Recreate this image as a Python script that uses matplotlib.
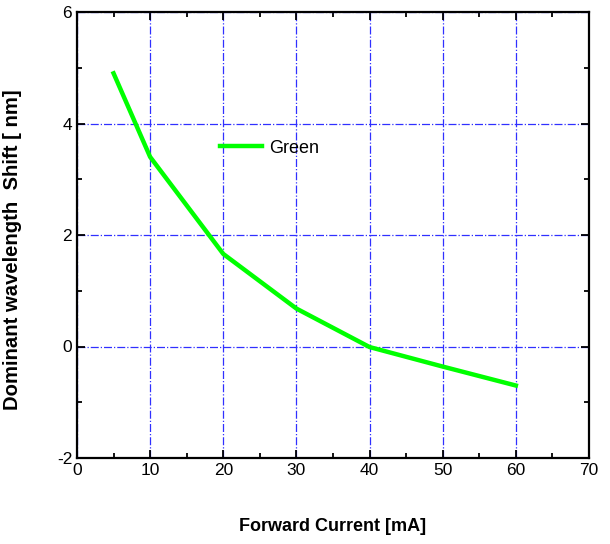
import matplotlib
matplotlib.use('Agg')
import matplotlib.pyplot as plt
from matplotlib.ticker import MultipleLocator

current = [5, 10, 20, 30, 40, 50, 60]
shift = [4.9, 3.4, 1.66, 0.68, -0.01, -0.36, -0.7]

plt.rcParams['font.family'] = ['Liberation Sans', 'DejaVu Sans']
plt.rcParams['axes.unicode_minus'] = False

fig = plt.figure(figsize=(6.1, 5.44), dpi=100)
ax = fig.add_axes([77 / 610, 1 - 458 / 544, (589 - 77) / 610, (458 - 12) / 544])

ax.plot(current, shift, color='#00ff00', lw=3.2, label='Green')

ax.set_xlim(0, 70)
ax.set_ylim(-2, 6)
ax.xaxis.set_major_locator(MultipleLocator(10))
ax.xaxis.set_minor_locator(MultipleLocator(5))
ax.yaxis.set_major_locator(MultipleLocator(2))
ax.yaxis.set_minor_locator(MultipleLocator(1))
ax.tick_params(which='both', direction='in', top=True, right=True, width=1.3, labelsize=12.5)
ax.tick_params(which='major', length=6)
ax.tick_params(which='minor', length=3.5)
for s in ax.spines.values():
    s.set_linewidth(1.6)

ax.grid(True, which='major', color='#3030ff', ls='-.', lw=0.9)

ax.set_xlabel('Forward Current [mA]', fontsize=13, fontweight='bold', labelpad=29)
ax.set_ylabel('Dominant wavelength  Shift [ nm]', fontsize=14.6, fontweight='bold')
ax.yaxis.set_label_coords(-0.107, 0.466)

ax.legend(loc='center left', bbox_to_anchor=(0.266, 0.695), frameon=False, fontsize=13,
          handlelength=2.3, handletextpad=0.4, borderaxespad=0)

fig.savefig('out.png', dpi=100)
